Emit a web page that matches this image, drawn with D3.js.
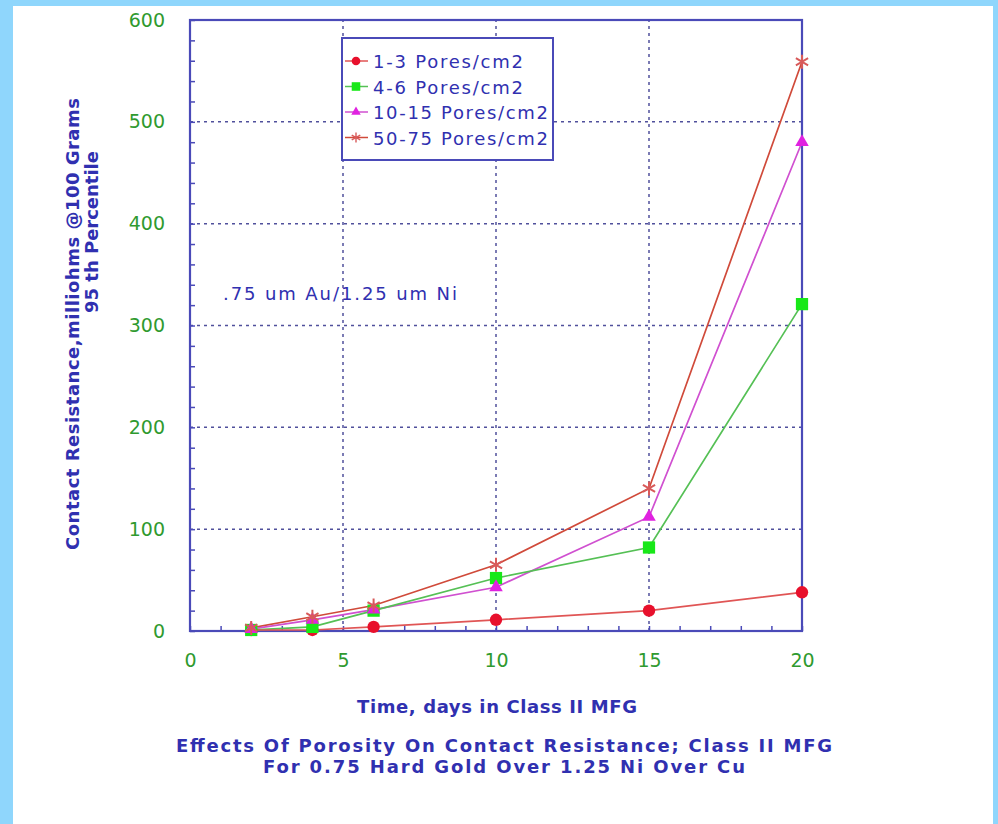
<!DOCTYPE html>
<html>
<head>
<meta charset="utf-8">
<script src="https://cdn.jsdelivr.net/npm/d3@7"></script>
<style>
  html, body { margin: 0; padding: 0; background: #8fd6fc; }
  svg { display: block; }
</style>
</head>
<body>
<svg id="chart" width="998" height="824"></svg>
<script>
// Exposure time (days in Class II mixed flowing gas)
const days = [2, 4, 6, 10, 15, 20];
// 95th percentile contact resistance, milliohms @100 grams
const pores1to3   = [1, 1, 4, 11, 20, 38];
const pores4to6   = [1, 4, 20, 52, 82, 321];
const pores10to15 = [2, 11, 21, 43, 112, 480];
const pores50to75 = [3, 14, 25, 65, 140, 559];
const seriesNames = ["1-3 Pores/cm2", "4-6 Pores/cm2", "10-15 Pores/cm2", "50-75 Pores/cm2"];
const xTickValues = [0, 5, 10, 15, 20];
const yTickValues = [0, 100, 200, 300, 400, 500, 600];

const seriesStyle = [
  { values: pores1to3,   marker: "circle",   fill: "#e8102c", line: "#e05555" },
  { values: pores4to6,   marker: "square",   fill: "#18e818", line: "#55c055" },
  { values: pores10to15, marker: "triangle", fill: "#e022e0", line: "#d050d0" },
  { values: pores50to75, marker: "star",     fill: "#d85a5a", line: "#d04a3a" }
];

const FRAME = "#4a4ab8";
const TEXT = "#3030b0";
const TICKTXT = "#2f9a2f";
const FONT = "'DejaVu Sans', Verdana, sans-serif";

const svg = d3.select("#chart");

// white card
svg.append("rect").attr("x", 13).attr("y", 6).attr("width", 980).attr("height", 818).attr("fill", "#ffffff");

const x = d3.scaleLinear().domain([0, 20]).range([190, 802]);
const y = d3.scaleLinear().domain([0, 600]).range([631, 20]);

// dotted grid
const grid = svg.append("g").attr("stroke", "#50509c").attr("stroke-width", 1.5).attr("stroke-dasharray", "3,4");
grid.selectAll("line.v").data([5, 10, 15]).join("line")
  .attr("x1", d => x(d)).attr("x2", d => x(d)).attr("y1", y(0)).attr("y2", y(600));
grid.selectAll("line.h").data([100, 200, 300, 400, 500]).join("line")
  .attr("x1", x(0)).attr("x2", x(20)).attr("y1", d => y(d)).attr("y2", d => y(d));

// minor ticks (inward)
const leftMinor = svg.append("g").attr("transform", `translate(${x(0)},0)`)
  .call(d3.axisLeft(y).tickValues(d3.range(0, 601, 20)).tickSize(-5).tickFormat(""));
const bottomMinor = svg.append("g").attr("transform", `translate(0,${y(0)})`)
  .call(d3.axisBottom(x).tickValues(d3.range(0, 21, 1)).tickSize(-5).tickFormat(""));
[leftMinor, bottomMinor].forEach(g => {
  g.select(".domain").remove();
  g.selectAll("line").attr("stroke", FRAME).attr("stroke-width", 1.5);
});

// tick labels
const leftLab = svg.append("g").attr("transform", `translate(${x(0)},0)`)
  .call(d3.axisLeft(y).tickValues(yTickValues).tickSize(0).tickPadding(25));
const bottomLab = svg.append("g").attr("transform", `translate(0,${y(0)})`)
  .call(d3.axisBottom(x).tickValues(xTickValues).tickSize(0).tickPadding(23));
[leftLab, bottomLab].forEach(g => {
  g.select(".domain").remove();
  g.selectAll("text").attr("fill", TICKTXT).attr("font-family", FONT).attr("font-size", 19);
});

// frame
svg.append("rect").attr("x", x(0)).attr("y", y(600)).attr("width", x(20) - x(0)).attr("height", y(0) - y(600))
  .attr("fill", "none").attr("stroke", FRAME).attr("stroke-width", 2.2);

// marker shapes
const symbolFor = {
  circle: d3.symbol().type(d3.symbolCircle).size(120),
  square: d3.symbol().type(d3.symbolSquare).size(150),
  triangle: d3.symbol().type(d3.symbolTriangle).size(80),
  star: d3.symbol().type(d3.symbolAsterisk).size(140)
};
function drawMarker(g, s, cx, cy, k) {
  const p = g.append("path").attr("d", symbolFor[s.marker]())
    .attr("transform", `translate(${cx},${cy}) scale(${k || 1})`);
  if (s.marker === "star") p.attr("fill", "none").attr("stroke", s.fill).attr("stroke-width", 2);
  else p.attr("fill", s.fill);
}

// series lines + markers
const line = d3.line().x((d, i) => x(days[i])).y(d => y(d));
seriesStyle.slice().reverse().forEach(s => {
  svg.append("path").attr("d", line(s.values)).attr("fill", "none")
    .attr("stroke", s.line).attr("stroke-width", 1.7);
});
seriesStyle.forEach(s => {
  const g = svg.append("g");
  s.values.forEach((v, i) => drawMarker(g, s, x(days[i]), y(v)));
});

// legend
const legend = svg.append("g");
legend.append("rect").attr("x", 342).attr("y", 38).attr("width", 211).attr("height", 122)
  .attr("fill", "#ffffff").attr("stroke", FRAME).attr("stroke-width", 2);
seriesStyle.forEach((s, i) => {
  const cy = 61 + i * 25.5;
  legend.append("line").attr("x1", 345).attr("x2", 368).attr("y1", cy).attr("y2", cy)
    .attr("stroke", s.line).attr("stroke-width", 1.5);
  drawMarker(legend.append("g"), s, 356, cy, 0.7);
  legend.append("text").attr("x", 373).attr("y", cy + 7).text(seriesNames[i])
    .attr("fill", TEXT).attr("font-family", FONT).attr("font-size", 18)
    .attr("textLength", [150, 150, 175, 175][i]).attr("lengthAdjust", "spacing");
});

// annotation
svg.append("text").attr("x", 223).attr("y", 300).text(".75 um Au/1.25 um Ni")
  .attr("fill", TEXT).attr("font-family", FONT).attr("font-size", 18)
  .attr("textLength", 234).attr("lengthAdjust", "spacing");

// axis titles
svg.append("text").attr("transform", "translate(79,324) rotate(-90)").attr("text-anchor", "middle")
  .text("Contact Resistance,milliohms @100 Grams")
  .attr("fill", TEXT).attr("font-family", FONT).attr("font-size", 18).attr("font-weight", "bold")
  .attr("textLength", 452).attr("lengthAdjust", "spacing");
svg.append("text").attr("transform", "translate(98,232) rotate(-90)").attr("text-anchor", "middle")
  .text("95 th Percentile")
  .attr("fill", TEXT).attr("font-family", FONT).attr("font-size", 18).attr("font-weight", "bold")
  .attr("textLength", 162).attr("lengthAdjust", "spacing");

svg.append("text").attr("x", 497).attr("y", 713).attr("text-anchor", "middle")
  .text("Time, days in Class II MFG")
  .attr("fill", TEXT).attr("font-family", FONT).attr("font-size", 18).attr("font-weight", "bold")
  .attr("textLength", 280).attr("lengthAdjust", "spacing");

// caption
const caption = ["Effects Of Porosity On Contact Resistance; Class II MFG", "For 0.75 Hard Gold Over 1.25 Ni Over Cu"];
svg.selectAll("text.caption").data(caption).join("text").attr("class", "caption")
  .attr("x", 504).attr("y", (d, i) => 752 + i * 21).attr("text-anchor", "middle").text(d => d)
  .attr("fill", TEXT).attr("font-family", FONT).attr("font-size", 18).attr("font-weight", "bold")
  .attr("textLength", (d, i) => [656, 482][i]).attr("lengthAdjust", "spacing");
</script>
</body>
</html>
